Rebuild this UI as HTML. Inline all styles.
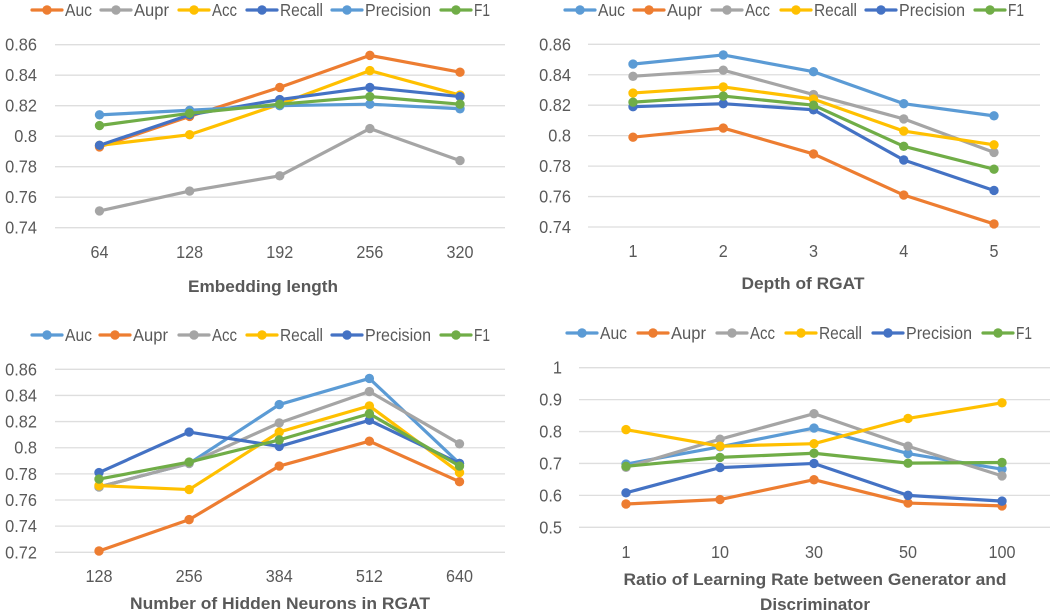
<!DOCTYPE html>
<html lang="en">
<head>
<meta charset="utf-8">
<title>Parameter sensitivity charts</title>
<style>
html,body{margin:0;padding:0;background:#fff;width:1059px;height:613px;overflow:hidden}
svg{display:block;font-family:"Liberation Sans",sans-serif;filter:blur(0.3px)}
</style>
</head>
<body>
<svg id="figure" xmlns="http://www.w3.org/2000/svg" width="1059" height="613" viewBox="0 0 1059 613"></svg>
<script>
// ---- Chart A: Embedding length ----
const embeddingCategories = ["64","128","192","256","320"];
const embeddingTicks = ["0.86","0.84","0.82","0.8","0.78","0.76","0.74"];
const embeddingAuc = [0.793,0.813,0.832,0.853,0.842];
const embeddingAupr = [0.751,0.764,0.774,0.805,0.784];
const embeddingAcc = [0.794,0.801,0.821,0.843,0.827];
const embeddingRecall = [0.794,0.814,0.824,0.832,0.826];
const embeddingPrecision = [0.814,0.817,0.820,0.821,0.818];
const embeddingF1 = [0.807,0.815,0.821,0.826,0.821];

// ---- Chart B: Depth of RGAT ----
const depthCategories = ["1","2","3","4","5"];
const depthTicks = ["0.86","0.84","0.82","0.8","0.78","0.76","0.74"];
const depthAuc = [0.847,0.853,0.842,0.821,0.813];
const depthAupr = [0.799,0.805,0.788,0.761,0.742];
const depthAcc = [0.839,0.843,0.827,0.811,0.789];
const depthRecall = [0.828,0.832,0.824,0.803,0.794];
const depthPrecision = [0.819,0.821,0.817,0.784,0.764];
const depthF1 = [0.822,0.826,0.820,0.793,0.778];

// ---- Chart C: Hidden neurons ----
const neuronCategories = ["128","256","384","512","640"];
const neuronTicks = ["0.86","0.84","0.82","0.8","0.78","0.76","0.74","0.72"];
const neuronAuc = [0.770,0.788,0.833,0.853,0.788];
const neuronAupr = [0.721,0.745,0.786,0.805,0.774];
const neuronAcc = [0.770,0.788,0.819,0.843,0.803];
const neuronRecall = [0.771,0.768,0.812,0.832,0.781];
const neuronPrecision = [0.781,0.812,0.801,0.821,0.788];
const neuronF1 = [0.776,0.789,0.806,0.826,0.786];

// ---- Chart D: Learning rate ratio ----
const ratioCategories = ["1","10","30","50","100"];
const ratioTicks = ["1","0.9","0.8","0.7","0.6","0.5"];
const ratioAuc = [0.698,0.752,0.811,0.731,0.682];
const ratioAupr = [0.573,0.587,0.649,0.576,0.567];
const ratioAcc = [0.688,0.776,0.856,0.754,0.661];
const ratioRecall = [0.806,0.754,0.762,0.841,0.890];
const ratioPrecision = [0.608,0.687,0.700,0.600,0.582];
const ratioF1 = [0.691,0.719,0.732,0.701,0.703];

const seriesNames = ["Auc","Aupr","Acc","Recall","Precision","F1"];

const ORANGE="#ED7D31",GRAY="#A5A5A5",YELLOW="#FFC000",BLUE="#4472C4",SKY="#5B9BD5",GREEN="#70AD47";
const TEXT="#595959";
const NS="http://www.w3.org/2000/svg";
const root=document.getElementById("figure");

function make(parent,tag,attrs){
  const el=document.createElementNS(NS,tag);
  for(const k in attrs){el.setAttribute(k,attrs[k]);}
  parent.appendChild(el);
  return el;
}

// width of a numeric label in the reference's narrower face
function numberWidth(s,digit){
  let w=0;
  for(const ch of s){w+=(ch==="."?digit/2:digit);}
  return w;
}

function drawChart(cfg){
  const g=make(root,"g",{});
  
  

  const top=parseFloat(cfg.ticks[0]);
  const bottom=parseFloat(cfg.ticks[cfg.ticks.length-1]);
  const yScale=v=>cfg.yTop+(top-v)/(top-bottom)*(cfg.yBottom-cfg.yTop);
  const xScale=i=>cfg.xFirst+i*(cfg.xLast-cfg.xFirst)/(cfg.categories.length-1);

  cfg.ticks.forEach(t=>{
    const v=parseFloat(t);
    const line=make(g,"line",{x1:cfg.gridLeft,x2:cfg.gridRight,y1:yScale(v),y2:yScale(v),stroke:"#DEDEDE","stroke-width":1.3});
    
    
    const label=make(g,"text",{x:cfg.tickRight,y:yScale(v)+6,"text-anchor":"end","font-size":17.5,fill:TEXT,textLength:numberWidth(t,9.1),lengthAdjust:"spacingAndGlyphs"});
    
    
    label.textContent=t;
  });

  cfg.categories.forEach((c,i)=>{
    const label=make(g,"text",{x:xScale(i),y:cfg.xLabelY,"text-anchor":"middle","font-size":17.5,fill:TEXT,textLength:numberWidth(c,9),lengthAdjust:"spacingAndGlyphs"});
    
    
    label.textContent=c;
  });

  cfg.titleLines.forEach((t,i)=>{
    const title=make(g,"text",{x:cfg.titleX,y:cfg.titleY+i*25,"text-anchor":"middle","font-size":17,"font-weight":"bold",fill:TEXT,textLength:t.w,lengthAdjust:"spacingAndGlyphs"});
    
    
    title.textContent=t.s;
  });

  cfg.series.forEach((values,s)=>{
    const color=cfg.colors[s];
    const sg=make(g,"g",{});
    
    
    const pts=values.map((v,i)=>xScale(i).toFixed(2)+","+yScale(v).toFixed(2)).join(" ");
    make(sg,"polyline",{points:pts,fill:"none",stroke:color,"stroke-width":3.2,"stroke-linejoin":"round","stroke-linecap":"round"});
    values.forEach((v,i)=>{
      const dot=make(sg,"circle",{cx:xScale(i),cy:yScale(v),r:4.7,fill:color});
      
      
    });
    const entry=make(g,"g",{});
    
    
    const lx=cfg.legendX[s];
    make(entry,"line",{x1:lx,x2:lx+30,y1:cfg.legendY,y2:cfg.legendY,stroke:color,"stroke-width":3.2,"stroke-linecap":"round"});
    make(entry,"circle",{cx:lx+15,cy:cfg.legendY,r:4.7,fill:color});
    const txt=make(entry,"text",{x:lx+33,y:cfg.legendY+6,"font-size":17.5,fill:TEXT,textLength:cfg.legendW[s],lengthAdjust:"spacingAndGlyphs"});
    txt.textContent=seriesNames[s];
  });
}

const legendWidths=[27,35,25,43,66,16];

drawChart({id:"embedding-length",categories:embeddingCategories,ticks:embeddingTicks,
  series:[embeddingAuc,embeddingAupr,embeddingAcc,embeddingRecall,embeddingPrecision,embeddingF1],
  colors:[ORANGE,GRAY,YELLOW,BLUE,SKY,GREEN],
  yTop:44.7,yBottom:227.7,xFirst:99.5,xLast:460,gridLeft:55,gridRight:505,tickRight:37,
  xLabelY:258,titleX:263,titleY:292,titleLines:[{s:"Embedding length",w:150}],
  legendX:[32,101,179,247,332,441],legendY:10,legendW:legendWidths});

drawChart({id:"depth-of-rgat",categories:depthCategories,ticks:depthTicks,
  series:[depthAuc,depthAupr,depthAcc,depthRecall,depthPrecision,depthF1],
  colors:[SKY,ORANGE,GRAY,YELLOW,BLUE,GREEN],
  yTop:44.3,yBottom:227,xFirst:633,xLast:994,gridLeft:588,gridRight:1040,tickRight:571,
  xLabelY:257,titleX:803,titleY:289,titleLines:[{s:"Depth of RGAT",w:123}],
  legendX:[565,634,712,781,866,975],legendY:10,legendW:legendWidths});

drawChart({id:"hidden-neurons",categories:neuronCategories,ticks:neuronTicks,
  series:[neuronAuc,neuronAupr,neuronAcc,neuronRecall,neuronPrecision,neuronF1],
  colors:[SKY,ORANGE,GRAY,YELLOW,BLUE,GREEN],
  yTop:369.3,yBottom:552.3,xFirst:99,xLast:459.5,gridLeft:55,gridRight:505,tickRight:37,
  xLabelY:582,titleX:280,titleY:609,titleLines:[{s:"Number of Hidden Neurons in RGAT",w:300}],
  legendX:[32,100,179,247,332,441],legendY:335,legendW:legendWidths});

drawChart({id:"learning-rate-ratio",categories:ratioCategories,ticks:ratioTicks,
  series:[ratioAuc,ratioAupr,ratioAcc,ratioRecall,ratioPrecision,ratioF1],
  colors:[SKY,ORANGE,GRAY,YELLOW,BLUE,GREEN],
  yTop:367.7,yBottom:527.3,xFirst:626,xLast:1002,gridLeft:579,gridRight:1050,tickRight:562,
  xLabelY:558,titleX:815,titleY:585,titleLines:[{s:"Ratio of Learning Rate between Generator and",w:383},{s:"Discriminator",w:110}],
  legendX:[567,638,717,786,873,983],legendY:333,legendW:legendWidths});
</script>
</body>
</html>
